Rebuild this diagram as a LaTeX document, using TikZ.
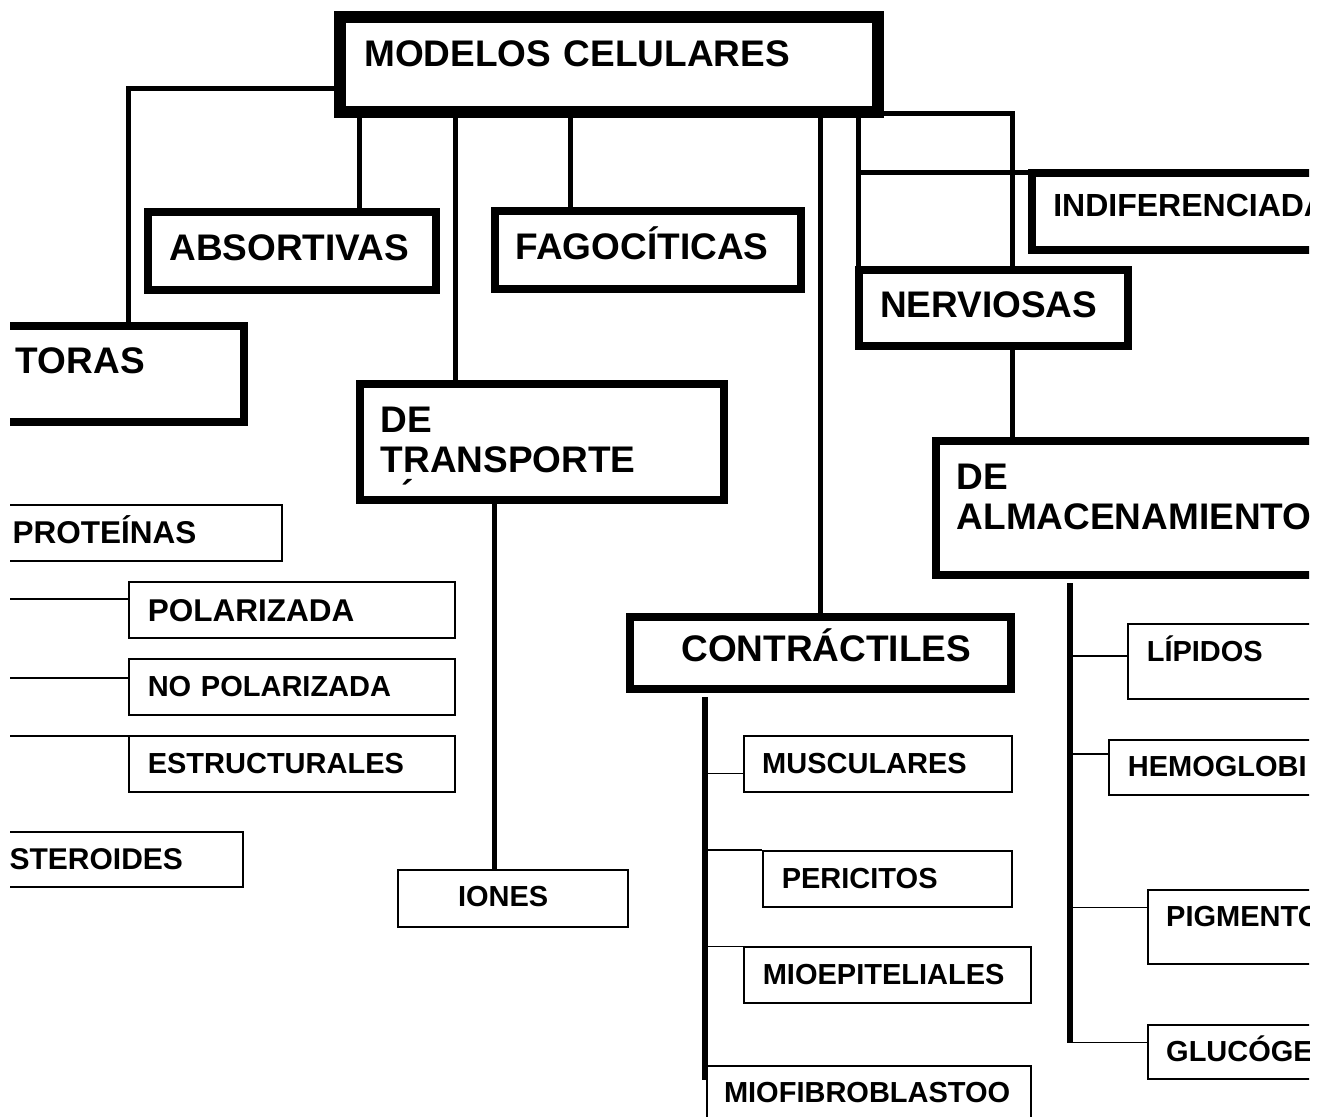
\documentclass[tikz,border=0pt]{standalone}
\usepackage{fontspec}
\setmainfont{Liberation Sans}
\usetikzlibrary{calc}
\hyphenpenalty=10000
\newcommand\letragrande{\fontsize{18.5pt}{20.35pt}\selectfont\bfseries}
\newcommand\letraindif{\fontsize{16pt}{18pt}\selectfont\bfseries}
\newcommand\letramedia{\fontsize{15.75pt}{18pt}\selectfont\bfseries}
\newcommand\letrachica{\fontsize{14.5pt}{17pt}\selectfont\bfseries}
\tikzset{
    grueso/.style={draw, line width=4pt, anchor=north west, align=left,
        inner xsep=10.5pt, inner ysep=0pt, text height=24pt, font=\letragrande},
    fino/.style={draw, line width=1pt, anchor=north west, align=left,
        inner xsep=9.25pt, inner ysep=0pt, text height=18.5pt, font=\letrachica},
    rama/.style={line width=2.5pt},
    ramita/.style={line width=0.9pt},
    tronco/.style={line width=2.8pt, shorten <=2pt}
}

\begin{document}
\begin{tikzpicture}[x=0.5pt, y=-0.5pt]
    \useasboundingbox (0,0) rectangle (1328,1117);
    \clip (10,0) rectangle (1309,1117);

    % cajas gruesas
    \node[grueso, line width=6pt, inner xsep=12.15pt, text height=24.85pt, text width=244.7pt, text depth=22.65pt] (mc) at (334,11) {MODELOS CELULARES};
    \node[grueso, text width=103.7pt, text depth=24pt] (sec) at (-9.1,322) {TORAS};
    \node[grueso, text width=122.85pt, text depth=14.85pt] (abs) at (144.3,208.3) {ABSORTIVAS};
    \node[grueso, text width=131.95pt, text depth=14.7pt] (fago) at (490.7,207.3) {FAGOCÍTICAS};
    \node[grueso, text width=161.3pt, text depth=34pt] (trans) at (355.7,380.3) {DE\\TRANSPORTE};
    \node[grueso, font=\letraindif, text height=21.7pt, text width=160.85pt, text depth=16.65pt] (indif) at (1028.3,169.3) {INDIFERENCIADA};
    \node[grueso, text width=113.35pt, text depth=14pt] (nerv) at (855,266) {NERVIOSAS};
    \node[grueso, text width=209.15pt, text depth=42.85pt] (almac) at (931.7,437.3) {DE\\ALMACENAMIENTO};
    \node[grueso, inner xsep=25.85pt, text height=22.5pt, text width=138.95pt, text depth=13.75pt] (contr) at (625.7,612.5) {CONTRÁCTILES};
    \node[font=\letragrande, anchor=base, inner sep=0pt] (acento) at (407.5,507) {´};

    % cajas finas
    \node[fino, font=\letramedia, text height=19.5pt, text width=125.6pt, text depth=8.65pt] (prot) at (-6.9,504) {PROTEÍNAS};
    \node[fino, font=\letramedia, text height=19.5pt, text width=144.2pt, text depth=8.5pt] (pol) at (128.3,581) {POLARIZADA};
    \node[fino, text width=144.2pt, text depth=9.35pt] (nopol) at (128.3,658.3) {NO POLARIZADA};
    \node[fino, text width=144.2pt, text depth=9.35pt] (estr) at (128.3,735) {ESTRUCTURALES};
    \node[fino, font=\fontsize{15pt}{17pt}\selectfont\bfseries, text width=107.6pt, text depth=9.15pt] (ester) at (-9.9,831) {STEROIDES};
    \node[fino, inner xsep=29.85pt, text width=55.15pt, text depth=10.1pt] (iones) at (397.3,868.7) {IONES};
    \node[fino, text width=115.5pt, text depth=9.5pt] (musc) at (742.7,735) {MUSCULARES};
    \node[fino, text width=105.7pt, text depth=9.5pt] (peri) at (762.3,850) {PERICITOS};
    \node[fino, text width=124.7pt, text depth=9.3pt] (mioep) at (743.3,946.4) {MIOEPITELIALES};
    \node[fino, inner xsep=8.5pt, text width=144.85pt, text depth=18.2pt] (mfib) at (706,1064.6) {MIOFIBROBLASTOO};
    \node[fino, text width=116.85pt, text depth=19.05pt] (lip) at (1127.3,623.2) {LÍPIDOS};
    \node[fino, text width=126.35pt, text depth=9.25pt] (hemo) at (1108.3,738.7) {HEMOGLOBI};
    \node[fino, text width=107.15pt, text depth=18.7pt] (pig) at (1146.7,888.6) {PIGMENTO};
    \node[fino, text width=107.15pt, text depth=8.9pt] (gluc) at (1146.7,1023.6) {GLUCÓGE};

    % ramas desde modelos celulares
    \draw[rama] (mc.west |- 0,88.3) -| (sec.north -| 128.3,0);
    \draw[rama] (mc.south -| 359.5,0) -- (abs.north -| 359.5,0);
    \draw[rama] (mc.south -| 455.5,0) -- (trans.north -| 455.5,0);
    \draw[rama] (mc.south -| 570.3,0) -- (fago.north -| 570.3,0);
    \draw[rama] (mc.south -| 820.5,0) -- (contr.north -| 820.5,0);
    \draw[rama] (mc.south -| 858.5,0) -- (nerv.north -| 858.5,0);
    \draw[rama] (mc.east |- 0,113.5) -| (nerv.north -| 1012.7,0);
    \draw[rama] (nerv.north -| 858.5,0) |- (indif.west |- 0,172.2);
    \draw[rama] (nerv.south -| 1012.5,0) -- (almac.north -| 1012.5,0);
    \draw[rama] (trans.south -| 494,0) -- (iones.north -| 494,0);

    % lineas del borde izquierdo
    \coordinate (izqPol) at (0,599.3);
    \coordinate (izqNo) at (0,677.7);
    \coordinate (izqEst) at (0,736);
    \draw[ramita] (izqPol) -- (pol.west |- izqPol);
    \draw[ramita] (izqNo) -- (nopol.west |- izqNo);
    \draw[ramita] (izqEst) -- (estr.west |- izqEst);

    % contractiles
    \coordinate (pieC) at (705,1080);
    \draw[tronco] (contr.south -| pieC) -- (pieC);
    \draw[ramita] (pieC |- 0,773.5) -- (musc.west |- 0,773.5);
    \draw[ramita] (pieC |- peri.north) -- (peri.north west);
    \draw[ramita] (pieC |- mioep.north) -- (mioep.north west);

    % almacenamiento
    \coordinate (pieA) at (1070,1043);
    \draw[tronco, line width=3.2pt] (almac.south -| pieA) -- (pieA);
    \draw[ramita] (pieA |- 0,656) -- (lip.west |- 0,656);
    \draw[ramita] (pieA |- 0,753.6) -- (hemo.west |- 0,753.6);
    \draw[ramita] (pieA |- 0,907.4) -- (pig.west |- 0,907.4);
    \draw[ramita] (pieA |- 0,1042.4) -- (gluc.west |- 0,1042.4);
\end{tikzpicture}
\end{document}
